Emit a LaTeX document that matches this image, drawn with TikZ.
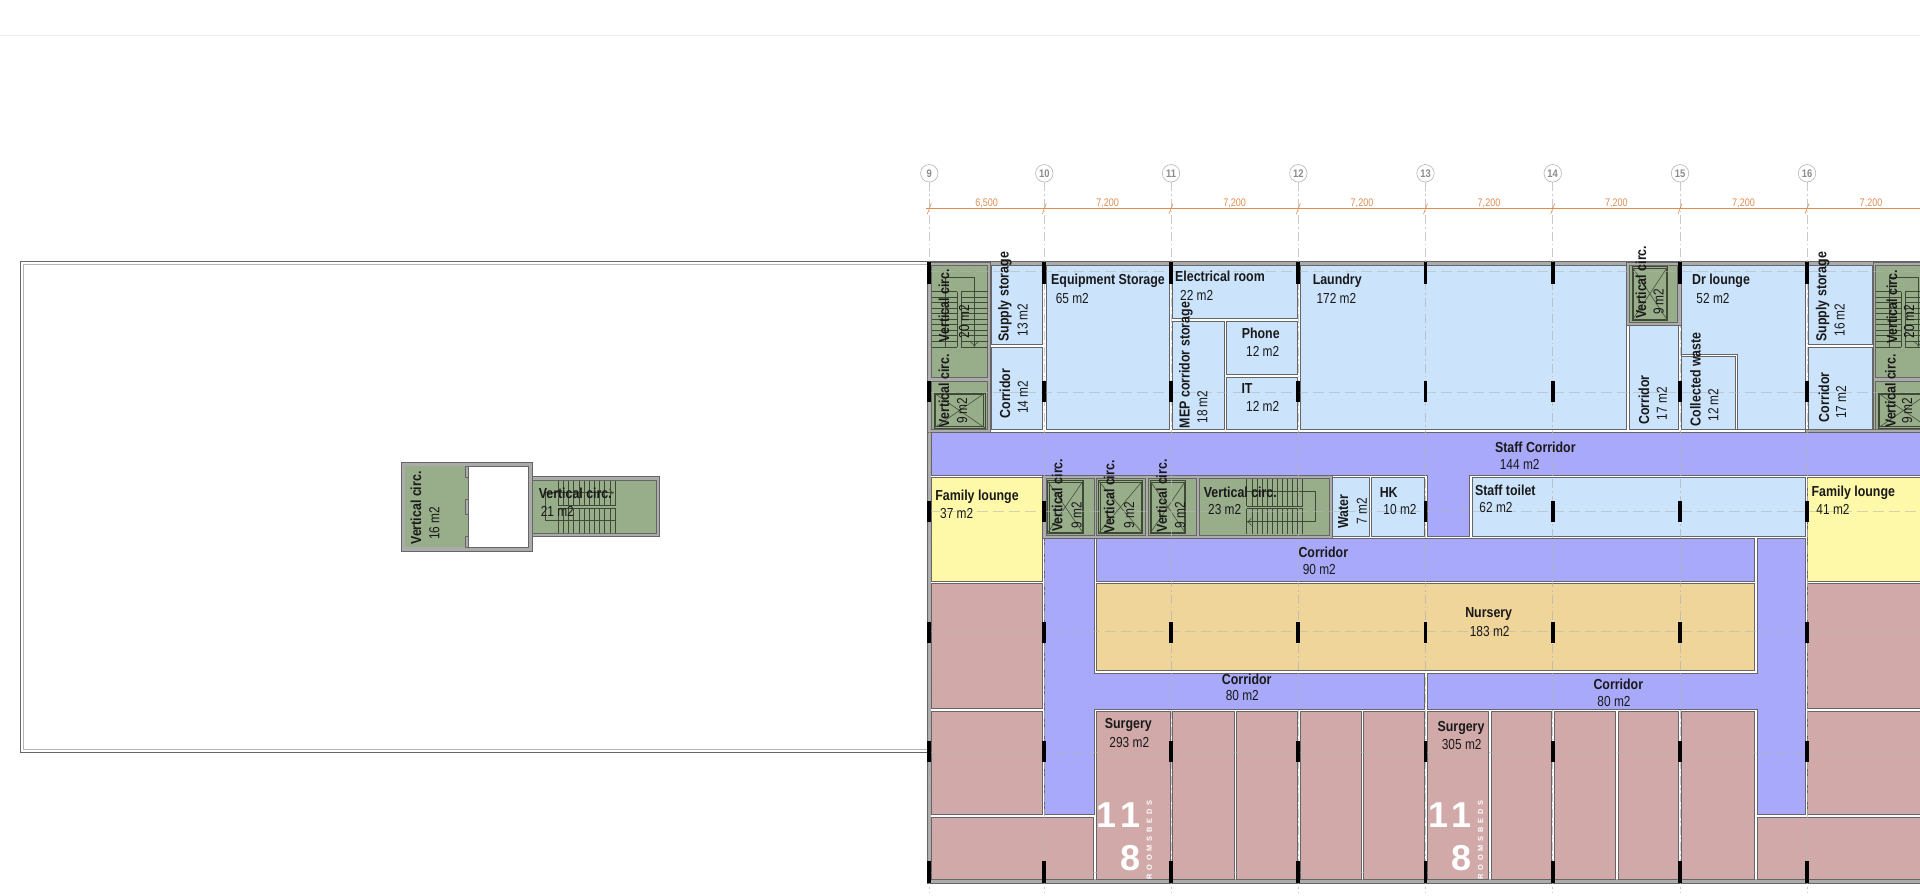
\documentclass[tikz,border=0pt]{standalone}
\usepackage{fontspec}
\usepackage{xcolor}
\usepackage{tikz}
\usetikzlibrary{arrows.meta}
\setmainfont{Liberation Sans}[FakeStretch=0.82,BoldFeatures={FakeStretch=0.855}]
\newfontfamily\bigfont{Liberation Sans}
\newfontfamily\spacedfont[LetterSpace=50]{Liberation Sans}
\definecolor{wallgrey}{HTML}{ABABAB}
\definecolor{edgegrey}{HTML}{666666}
\definecolor{staffblue}{HTML}{CBE4FC}
\definecolor{corrpurple}{HTML}{A9A9FB}
\definecolor{loungeyellow}{HTML}{FEF9A9}
\definecolor{surgpink}{HTML}{D1A9A9}
\definecolor{nurstan}{HTML}{EFD59A}
\definecolor{circgreen}{HTML}{98AD8A}
\definecolor{stairline}{HTML}{3F4A36}
\definecolor{dimorange}{HTML}{DD8C52}
\definecolor{gridgrey}{HTML}{B4B4B4}
\tikzset{
  wall/.style={fill=wallgrey, draw=edgegrey, line width=0.7pt},
  room/.style={fill=#1, draw=edgegrey, line width=0.8pt},
  circ/.style={fill=circgreen, draw=edgegrey, line width=0.7pt},
  stairln/.style={draw=stairline, line width=0.55pt},
  gridln/.style={draw=gridgrey, line width=0.7pt, dash pattern=on 9pt off 3pt on 1.5pt off 3pt, opacity=0.7},
  rowln/.style={draw=gridgrey, line width=0.7pt, dash pattern=on 11pt off 5pt, opacity=0.55},
  gridbub/.style={circle, draw=gridgrey, fill=white, line width=0.6pt, minimum size=17.5pt, inner sep=0pt, text=black!45, font=\bfseries\fontsize{11}{11}\selectfont},
  dimln/.style={draw=dimorange, line width=0.6pt},
  dimtxt/.style={text=dimorange, font=\fontsize{11}{12}\selectfont, inner sep=0pt},
  colmn/.style={fill=black, draw=none},
  rname/.style={text=black!90, font=\bfseries\fontsize{14.5}{15}\selectfont, inner sep=0pt},
  rarea/.style={text=black!90, font=\fontsize{14.5}{15}\selectfont, inner sep=0pt},
  bignum/.style={text=white, font=\bigfont\bfseries\fontsize{36}{38}\selectfont, inner sep=0pt},
  bedtxt/.style={text=white, rotate=90, font=\spacedfont\bfseries\fontsize{7.4}{8}\selectfont, inner sep=0pt}
}
% lift box with crossed shaft
\newcommand{\liftbox}[4]{
  \draw[stairln, line width=0.8pt] (#1,#2) rectangle (#3,#4);
  \draw[stairln] (#1+1.5,#2+1.5) rectangle (#3-1.5,#4-1.5);
  \draw[stairln] (#1,#2) -- (#3,#4) (#1,#4) -- (#3,#2);
}
% corner stair and lift, used twice
\newcommand{\corestair}[1]{
  \begin{scope}[xshift=#1pt]
    \draw[circ] (931.7,265) rectangle (987.5,377.5);
    \draw[circ] (931.7,381) rectangle (987.5,429.5);
    \foreach \ty in {291.5,297,302.5,308,313.5,319,324.5,330,335.5,341,347}{
      \draw[stairln] (931.7,\ty) -- (957.3,\ty) (961,\ty) -- (987.5,\ty);
    }
    \draw[stairln] (957.3,291.5) -- (957.3,347) (961,291.5) -- (961,347);
    \draw[stairln, -{To[length=5pt,width=8pt]}] (945,347) -- (945,277.3) -- (974.3,277.3) -- (974.3,347);
    \liftbox{934}{393}{985}{428}
  \end{scope}
}
\begin{document}
\begin{tikzpicture}[x=1pt,y=-1pt]
  \useasboundingbox (0,0) rectangle (1920,896);
  \clip (0,0) rectangle (1920,896);
  \draw[draw=black!7, line width=1pt] (0,36) -- (1920,36);

  % roof outline
  \draw[draw=edgegrey, line width=1pt] (929,261.7) -- (20,261.7) -- (20,752) -- (929,752);
  \draw[draw=gridgrey, line width=1pt] (929,264.5) -- (23,264.5) -- (23,749) -- (929,749);

  % stair tower on the roof
  \draw[wall] (401,462.7) rectangle (532.7,551.3);
  \fill[white] (468.3,466) rectangle (528.3,547.3);
  \draw[edgegrey, line width=0.7pt] (468.3,466) rectangle (528.3,547.3);
  \fill[circgreen] (404.7,466) rectangle (468.3,547.3);
  \draw[wall, line width=0.4pt] (465,466) rectangle (468.3,477.5) (465,499.5) rectangle (468.3,514) (465,536.5) rectangle (468.3,547.3);
  \draw[wall] (532.7,476.7) rectangle (659.3,536.7);
  \draw[circ] (532.7,480.7) rectangle (656,533.3);
  \foreach \tx in {558.3,563.4,568.6,573.7,578.9,584,589.2,594.3,599.5,604.6,609.8,615}{
    \draw[stairln] (\tx,480.7) -- (\tx,505.7) (\tx,508.3) -- (\tx,533.3);
  }
  \draw[stairln] (558.3,505.7) -- (615,505.7) (558.3,508.3) -- (615,508.3);
  \draw[stairln, -{To[length=5pt,width=8pt]}] (615,520.7) -- (545,520.7) -- (545,492.7) -- (614,492.7);

  % walls
  \fill[wallgrey] (927.7,261.7) rectangle (1920,265);
  \fill[wallgrey] (927.7,261.7) rectangle (931.3,883.3);
  \fill[wallgrey] (927.7,879.3) rectangle (1920,883.3);
  \draw[edgegrey, line width=0.7pt] (1920,261.7) -- (927.7,261.7) -- (927.7,883.3) -- (1920,883.3);
  \draw[wall] (927.7,262) rectangle (990.7,432);
  \draw[wall] (1873.3,262) rectangle (1925,432);
  \draw[wall] (1805.3,429.3) rectangle (1925,432);
  \draw[wall] (1042.7,475) rectangle (1332,538.7);

  % top band rooms
  \draw[room=staffblue] (991.3,265) rectangle (1042.7,344);
  \draw[room=staffblue] (991.3,347.3) rectangle (1042.7,429.3);
  \draw[room=staffblue] (1046,265) rectangle (1169.3,429.3);
  \draw[room=staffblue] (1172.3,265) rectangle (1297.3,318.7);
  \draw[room=staffblue] (1172.3,321.7) rectangle (1224.3,429.3);
  \draw[room=staffblue] (1226.3,321.7) rectangle (1297.3,374);
  \draw[room=staffblue] (1226.3,377.3) rectangle (1297.3,429.3);
  \draw[room=staffblue] (1300,265) rectangle (1626.6,429.3);
  \draw[room=staffblue] (1629.4,325.7) rectangle (1678.4,429.3);
  \draw[room=staffblue] (1681.6,265) rectangle (1805.3,429.3);
  \draw[edgegrey, fill=white, line width=0.7pt] (1681.6,429.3) -- (1681.6,354.3) -- (1737,354.3) -- (1737,429.3);
  \draw[room=staffblue] (1681.6,356.7) rectangle (1735,429.3);
  \draw[room=staffblue] (1808.5,265) rectangle (1872.6,344);
  \draw[room=staffblue] (1808.5,347.3) rectangle (1872.6,429.3);

  % lifts and stairs
  \corestair{0}
  \corestair{944}
  \draw[wall] (1626.6,262) rectangle (1681.6,325.7);
  \draw[circ] (1629.4,265) rectangle (1677.6,322);
  \liftbox{1632}{266.7}{1667.7}{320.7}

  % corridors
  \draw[room=corrpurple] (931.7,432.7) -- (1925,432.7) -- (1925,475) -- (1469.3,475) -- (1469.3,536.7) -- (1427.3,536.7) -- (1427.3,475) -- (931.7,475) -- cycle;
  \draw[room=corrpurple] (1096,538.7) rectangle (1754.7,581);
  \draw[room=corrpurple] (1044.3,538.7) -- (1094,538.7) -- (1094,673.3) -- (1424.7,673.3) -- (1424.7,709.3) -- (1094,709.3) -- (1094,814.3) -- (1044.3,814.3) -- cycle;
  \draw[room=corrpurple] (1757.3,538.7) -- (1805.3,538.7) -- (1805.3,814.3) -- (1757.3,814.3) -- (1757.3,709.3) -- (1427.3,709.3) -- (1427.3,673.3) -- (1757.3,673.3) -- cycle;

  % middle band
  \draw[room=loungeyellow] (931.7,477.3) rectangle (1042.7,581);
  \draw[room=loungeyellow] (1807.7,477.3) rectangle (1925,581);
  \draw[room=staffblue] (1332.7,477.3) rectangle (1369.3,536.7);
  \draw[room=staffblue] (1371.3,477.3) rectangle (1424.7,536.7);
  \draw[room=staffblue] (1472.7,477.3) rectangle (1805.3,536.7);
  \draw[room=nurstan] (1096,583.3) rectangle (1754.7,670.7);
  \draw[circ] (1046,478.3) rectangle (1094,535);
  \draw[circ] (1096.7,478.3) rectangle (1145,535);
  \draw[circ] (1148.7,478.3) rectangle (1196.7,535);
  \draw[circ] (1199.3,478.3) rectangle (1329.3,535);
  \liftbox{1047.3}{480.7}{1083.3}{533.3}
  \liftbox{1098.3}{480.7}{1142.7}{533.3}
  \liftbox{1150}{480.7}{1185.7}{533.3}
  \foreach \tx in {1246.7,1251.8,1256.9,1262,1267.1,1272.2,1277.3,1282.4,1287.5,1292.6,1297.7,1302.7}{
    \draw[stairln] (\tx,479.3) -- (\tx,506) (\tx,508.7) -- (\tx,534.3);
  }
  \draw[stairln] (1246.7,506) -- (1302.7,506) (1246.7,508.7) -- (1302.7,508.7);
  \draw[stairln, -{To[length=5pt,width=8pt]}] (1246.7,491.7) -- (1315.7,491.7) -- (1315.7,521.7) -- (1246.7,521.7);

  % bed rooms
  \draw[room=surgpink] (931.7,583.3) rectangle (1042.7,708.7);
  \draw[room=surgpink] (931.7,711) rectangle (1042.7,814.3);
  \draw[room=surgpink] (931.7,817.3) rectangle (1093.3,879.3);
  \draw[room=surgpink] (1807.7,583.3) rectangle (1925,708.7);
  \draw[room=surgpink] (1807.7,711) rectangle (1925,814.3);
  \draw[room=surgpink] (1757.3,817.3) rectangle (1925,879.3);
  \foreach \xa/\xb in {1096/1170,1172.7/1234,1236.3/1297.7,1300.3/1361.7,1363.7/1424.7,1427.3/1488.3,1491/1551.7,1554.3/1615.7,1618.3/1678.7,1681.3/1754.7}{
    \draw[room=surgpink] (\xa,711) rectangle (\xb,879.3);
  }

  % grid lines and bubbles
  \foreach \rowy in {271.3,392.3,511.7,631.7,752.7,872.7}{
    \draw[rowln] (929.3,\rowy) -- (1920,\rowy);
  }
  \foreach \gid/\gx in {9/929.3,10/1044.3,11/1171,12/1298.3,13/1425.5,14/1552.7,15/1680,16/1807}{
    \node[gridbub] (g\gid) at (\gx,173.3) {\gid};
    \coordinate (e\gid) at (\gx,893);
    \draw[gridln] (g\gid) -- (e\gid);
    \draw[dimln] (\gx-2,214) -- (\gx+2,203.5);
  }
  \coordinate (dimA) at (926,208.7);
  \coordinate (dimB) at (1920,208.7);
  \draw[dimln] (dimA) -- (dimB);
  \foreach \dx/\dt in {986.7/{6,500},1107.7/{7,200},1234.7/{7,200},1362/{7,200},1489/{7,200},1616.3/{7,200},1743.5/{7,200},1871/{7,200}}{
    \node[dimtxt] at (\dx,203.3) {\dt};
  }

  % columns
  \foreach \cx in {929.3,1044.3,1171,1298.3,1425.5,1552.7,1680,1807}{
    \foreach \cy in {262.3,381,621.7,741,861.3}{
      \fill[colmn] (\cx-1.9,\cy) rectangle (\cx+1.9,\cy+21.3);
    }
  }
  \foreach \cx in {929.3,1044.3,1425.5,1552.7,1680,1807}{
    \fill[colmn] (\cx-1.9,501) rectangle (\cx+1.9,522.3);
  }

  % labels
  \node[rname,rotate=90] (vcA) at (416,508) {Vertical circ.};
  \node[rarea,rotate=90] (vcAa) at (434.3,523.3) {16 m2};
  \node[rname] (vcB) at (575.3,493.3) {Vertical circ.};
  \node[rarea] (vcBa) at (557.3,511.3) {21 m2};
  \node[rname,rotate=90] (vcC) at (944,305.7) {Vertical circ.};
  \node[rarea,rotate=90] (vcCa) at (964,321.7) {20 m2};
  \node[rname,rotate=90] (vcD) at (944,390.7) {Vertical circ.};
  \node[rarea,rotate=90] (vcDa) at (962,410.7) {9 m2};
  \node[rname,rotate=90] (supA) at (1005,296.7) {Supply storage};
  \node[rarea,rotate=90] (supAa) at (1022.7,320) {13 m2};
  \node[rname,rotate=90] (corA) at (1005,393.7) {Corridor};
  \node[rarea,rotate=90] (corAa) at (1022.7,397.3) {14 m2};
  \node[rname] (equip) at (1108,281) {Equipment Storage};
  \node[rarea] (equipa) at (1072.3,298.3) {65 m2};
  \node[rname] (elec) at (1220,276.7) {Electrical room};
  \node[rarea] (eleca) at (1196.7,295) {22 m2};
  \node[rname,rotate=90] (mep) at (1186,365) {MEP corridor storage};
  \node[rarea,rotate=90] (mepa) at (1202.3,407) {18 m2};
  \node[rname] (phone) at (1260.7,333.7) {Phone};
  \node[rarea] (phonea) at (1262.7,351.3) {12 m2};
  \node[rname] (it) at (1247,388.3) {IT};
  \node[rarea] (ita) at (1262.7,406) {12 m2};
  \node[rname] (laund) at (1337.2,281) {Laundry};
  \node[rarea] (launda) at (1336.4,298.3) {172 m2};
  \node[rname,rotate=90] (vcE) at (1640.8,282.3) {Vertical circ.};
  \node[rarea,rotate=90] (vcEa) at (1658.6,301.7) {9 m2};
  \node[rname,rotate=90] (corB) at (1644,400) {Corridor};
  \node[rarea,rotate=90] (corBa) at (1661.8,403.7) {17 m2};
  \node[rname] (drl) at (1721,281) {Dr lounge};
  \node[rarea] (drla) at (1713,298.3) {52 m2};
  \node[rname,rotate=90] (waste) at (1695.4,379.3) {Collected waste};
  \node[rarea,rotate=90] (wastea) at (1713.2,405) {12 m2};
  \node[rname,rotate=90] (supB) at (1822.7,296.7) {Supply storage};
  \node[rarea,rotate=90] (supBa) at (1839.7,320) {16 m2};
  \node[rname,rotate=90] (corC) at (1824,397.3) {Corridor};
  \node[rarea,rotate=90] (corCa) at (1841,402.3) {17 m2};
  \node[rname,rotate=90] (vcF) at (1892,306.7) {Vertical circ.};
  \node[rarea,rotate=90] (vcFa) at (1909,321.7) {20 m2};
  \node[rname,rotate=90] (vcG) at (1890.3,391) {Vertical circ.};
  \node[rarea,rotate=90] (vcGa) at (1907,410.7) {9 m2};
  \node[rname] (staffc) at (1535.3,447) {Staff Corridor};
  \node[rarea] (staffca) at (1519.7,464.7) {144 m2};
  \node[rname] (famA) at (977,496.3) {Family lounge};
  \node[rarea] (famAa) at (956.7,514) {37 m2};
  \node[rname,rotate=90] (vcH) at (1057.3,495.3) {Vertical circ.};
  \node[rarea,rotate=90] (vcHa) at (1076.7,515) {9 m2};
  \node[rname,rotate=90] (vcI) at (1109.3,497) {Vertical circ.};
  \node[rarea,rotate=90] (vcIa) at (1129,515) {9 m2};
  \node[rname,rotate=90] (vcJ) at (1161.7,496) {Vertical circ.};
  \node[rarea,rotate=90] (vcJa) at (1180,515) {9 m2};
  \node[rname] (vcK) at (1240.3,492) {Vertical circ.};
  \node[rarea] (vcKa) at (1224.7,509.3) {23 m2};
  \node[rname,rotate=90] (water) at (1343.3,511.7) {Water};
  \node[rarea,rotate=90] (watera) at (1361.7,511) {7 m2};
  \node[rname] (hk) at (1388.7,492.3) {HK};
  \node[rarea] (hka) at (1400,510) {10 m2};
  \node[rname] (toilet) at (1505.3,490.3) {Staff toilet};
  \node[rarea] (toileta) at (1496,508) {62 m2};
  \node[rname] (famB) at (1853.3,492.3) {Family lounge};
  \node[rarea] (famBa) at (1833,509.7) {41 m2};
  \node[rname] (corD) at (1323.3,552) {Corridor};
  \node[rarea] (corDa) at (1319.3,569.3) {90 m2};
  \node[rname] (nurs) at (1488.7,614) {Nursery};
  \node[rarea] (nursa) at (1489.7,631.3) {183 m2};
  \node[rname] (corE) at (1246.7,679) {Corridor};
  \node[rarea] (corEa) at (1242.3,696) {80 m2};
  \node[rname] (corF) at (1618.3,684) {Corridor};
  \node[rarea] (corFa) at (1614,701.3) {80 m2};
  \node[rname] (surgA) at (1128.3,725) {Surgery};
  \node[rarea] (surgAa) at (1129.3,742.3) {293 m2};
  \node[rname] (surgB) at (1461,728.3) {Surgery};
  \node[rarea] (surgBa) at (1461.7,745) {305 m2};

  \foreach \tag/\nx in {A/0,B/331.3}{
    \node[bignum] (num\tag) at (1118.5+\nx,815) {1\hspace{3.5pt}1};
    \node[bignum] (sub\tag) at (1130+\nx,857.7) {8};
    \node[bedtxt] (bed\tag) at (1149.3+\nx,840) {ROOMSBEDS};
  }
\end{tikzpicture}
\end{document}
